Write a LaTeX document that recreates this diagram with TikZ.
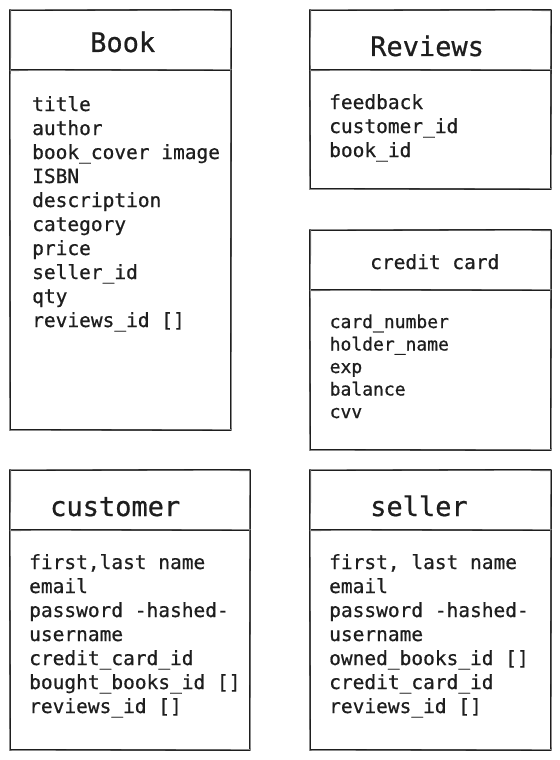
\documentclass[tikz,border=0pt]{standalone}
\usepackage{fontspec}
\newfontfamily\monof{DejaVu Sans Mono}[FakeBold=0.7]
\definecolor{ink}{HTML}{1E1E1E}
\newcommand\fl[1]{\hbox{#1}}
\newcommand\flist[2]{\vtop{\baselineskip=#1\lineskiplimit=-30bp\lineskip=0pt #2}}
\newcommand\tablebox[5]{%
  \draw[box] (#1,#2) rectangle (#3,#4);
  \draw[box] (#1,#5) -- (#3,#5);
  \draw[boxb] (#1+0.8,#2-0.6) -- (#3-0.5,#2+0.7) -- (#3+0.6,#4-0.5) -- (#1-0.5,#4+0.6) -- cycle;
  \draw[boxb] (#1-0.4,#5+0.7) -- (#3+0.5,#5-0.5);
}
\begin{document}
\begin{tikzpicture}[x=1bp,y=-1bp,
  box/.style={line width=1.1bp, draw=ink, line join=round},
  boxb/.style={line width=0.7bp, draw=black!45, line join=round},
  ttl/.style={anchor=base west, inner sep=0, text=ink, font=\monof\fontsize{27bp}{32bp}\selectfont},
  ttls/.style={anchor=base west, inner sep=0, text=ink, font=\monof\fontsize{19.5bp}{24bp}\selectfont},
  fld/.style={anchor=base west, inner sep=0, text=ink, font=\monof\fontsize{19.5bp}{24bp}\selectfont},
  flds/.style={anchor=base west, inner sep=0, text=ink, font=\monof\fontsize{18bp}{22.5bp}\selectfont}]
\useasboundingbox (0,0) rectangle (560,760);
\fill[white] (0,0) rectangle (560,760);

% Book
\tablebox{10}{10}{231}{430}{70}
\node[ttl] (bookT) at (90,52) {Book};
\node[fld] (bookF) at (32,111) {\flist{24bp}{\fl{title}\fl{author}\fl{book\_cover image}\fl{ISBN}\fl{description}\fl{category}\fl{price}\fl{seller\_id}\fl{qty}\fl{reviews\_id []}}};

% Reviews
\tablebox{310}{10}{551}{189}{70}
\node[ttl] (revT) at (370,56) {Reviews};
\node[fld] (revF) at (329,109) {\flist{24bp}{\fl{feedback}\fl{customer\_id}\fl{book\_id}}};

% credit card
\tablebox{310}{230}{551}{450}{290}
\node[ttls] (ccT) at (370,269) {credit card};
\node[flds] (ccF) at (329.5,328) {\flist{22.5bp}{\fl{card\_number}\fl{holder\_name}\fl{exp}\fl{balance}\fl{cvv}}};

% customer
\tablebox{10}{470}{250}{750}{530}
\node[ttl] (custT) at (50,516) {customer};
\node[fld] (custF) at (29,569) {\flist{24bp}{\fl{first,last name}\fl{email}\fl{password -hashed-}\fl{username}\fl{credit\_card\_id}\fl{bought\_books\_id []}\fl{reviews\_id []}}};

% seller
\tablebox{310}{470}{551}{750}{530}
\node[ttl] (sellT) at (370,516) {seller};
\node[fld] (sellF) at (329,569) {\flist{24bp}{\fl{first, last name}\fl{email}\fl{password -hashed-}\fl{username}\fl{owned\_books\_id []}\fl{credit\_card\_id}\fl{reviews\_id []}}};
\end{tikzpicture}
\end{document}
